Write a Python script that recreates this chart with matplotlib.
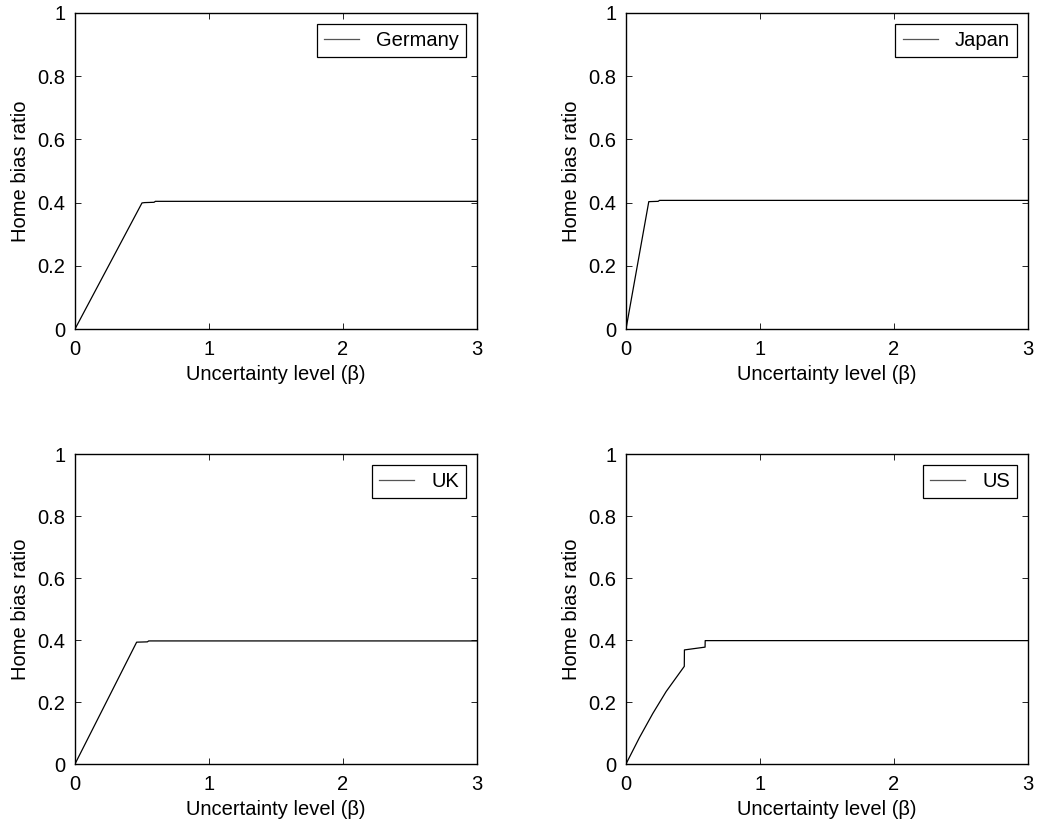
"""Home bias ratio vs. uncertainty level, four countries."""

import matplotlib
matplotlib.use("Agg")
import matplotlib.pyplot as plt

plt.rcParams["font.family"] = ["Liberation Sans", "DejaVu Sans"]
plt.rcParams["font.size"] = 14.5

countries = ["Germany", "Japan", "UK", "US"]

germany_beta = [0.0, 0.50, 0.52, 0.59, 0.60, 3.0]
germany_ratio = [0.0, 0.399, 0.400, 0.401, 0.404, 0.404]

japan_beta = [0.0, 0.17, 0.24, 0.25, 3.0]
japan_ratio = [0.0, 0.403, 0.404, 0.407, 0.407]

uk_beta = [0.0, 0.46, 0.54, 0.55, 3.0]
uk_ratio = [0.0, 0.393, 0.394, 0.397, 0.397]

us_beta = [0.0, 0.10, 0.20, 0.30, 0.435, 0.436, 0.59, 0.591, 3.0]
us_ratio = [0.0, 0.085, 0.163, 0.234, 0.315, 0.368, 0.377, 0.398, 0.398]

series = [
    (germany_beta, germany_ratio),
    (japan_beta, japan_ratio),
    (uk_beta, uk_ratio),
    (us_beta, us_ratio),
]

W, H = 1037, 822
fig = plt.figure(figsize=(W / 100, H / 100), dpi=100)

lefts = [75, 626]
tops = [13, 454]
bottoms = [329, 764]
width = 402

for i, (name, (xs, ys)) in enumerate(zip(countries, series)):
    row, col = divmod(i, 2)
    l = lefts[col] / W
    b = 1 - bottoms[row] / H
    h = (bottoms[row] - tops[row]) / H
    ax = fig.add_axes([l, b, width / W, h])
    ax.plot(xs, ys, color="black", linewidth=0.9, label=name)
    ax.set_xlim(0, 3)
    ax.set_ylim(0, 1)
    ax.set_xticks([0, 1, 2, 3])
    ax.set_yticks([0, 0.2, 0.4, 0.6, 0.8, 1])
    ax.set_yticklabels(["0", "0.2", "0.4", "0.6", "0.8", "1"])
    ax.tick_params(axis="x", pad=8)
    ax.tick_params(axis="y", pad=7)
    ax.tick_params(direction="in", top=True, right=True, length=4, width=0.6)
    for sp in ax.spines.values():
        sp.set_linewidth(1.0)
    ax.set_xlabel("Uncertainty level (β)", labelpad=4)
    ax.set_ylabel("Home bias ratio", labelpad=5)
    leg = ax.legend(loc="upper right", fancybox=False, edgecolor="black",
                    framealpha=1, handlelength=1.75, borderaxespad=0.55,
                    borderpad=0.35, handletextpad=0.85)
    leg.get_frame().set_linewidth(0.9)
    for line in leg.get_lines():
        line.set_color("#555555")

fig.savefig("out.png", dpi=100)
